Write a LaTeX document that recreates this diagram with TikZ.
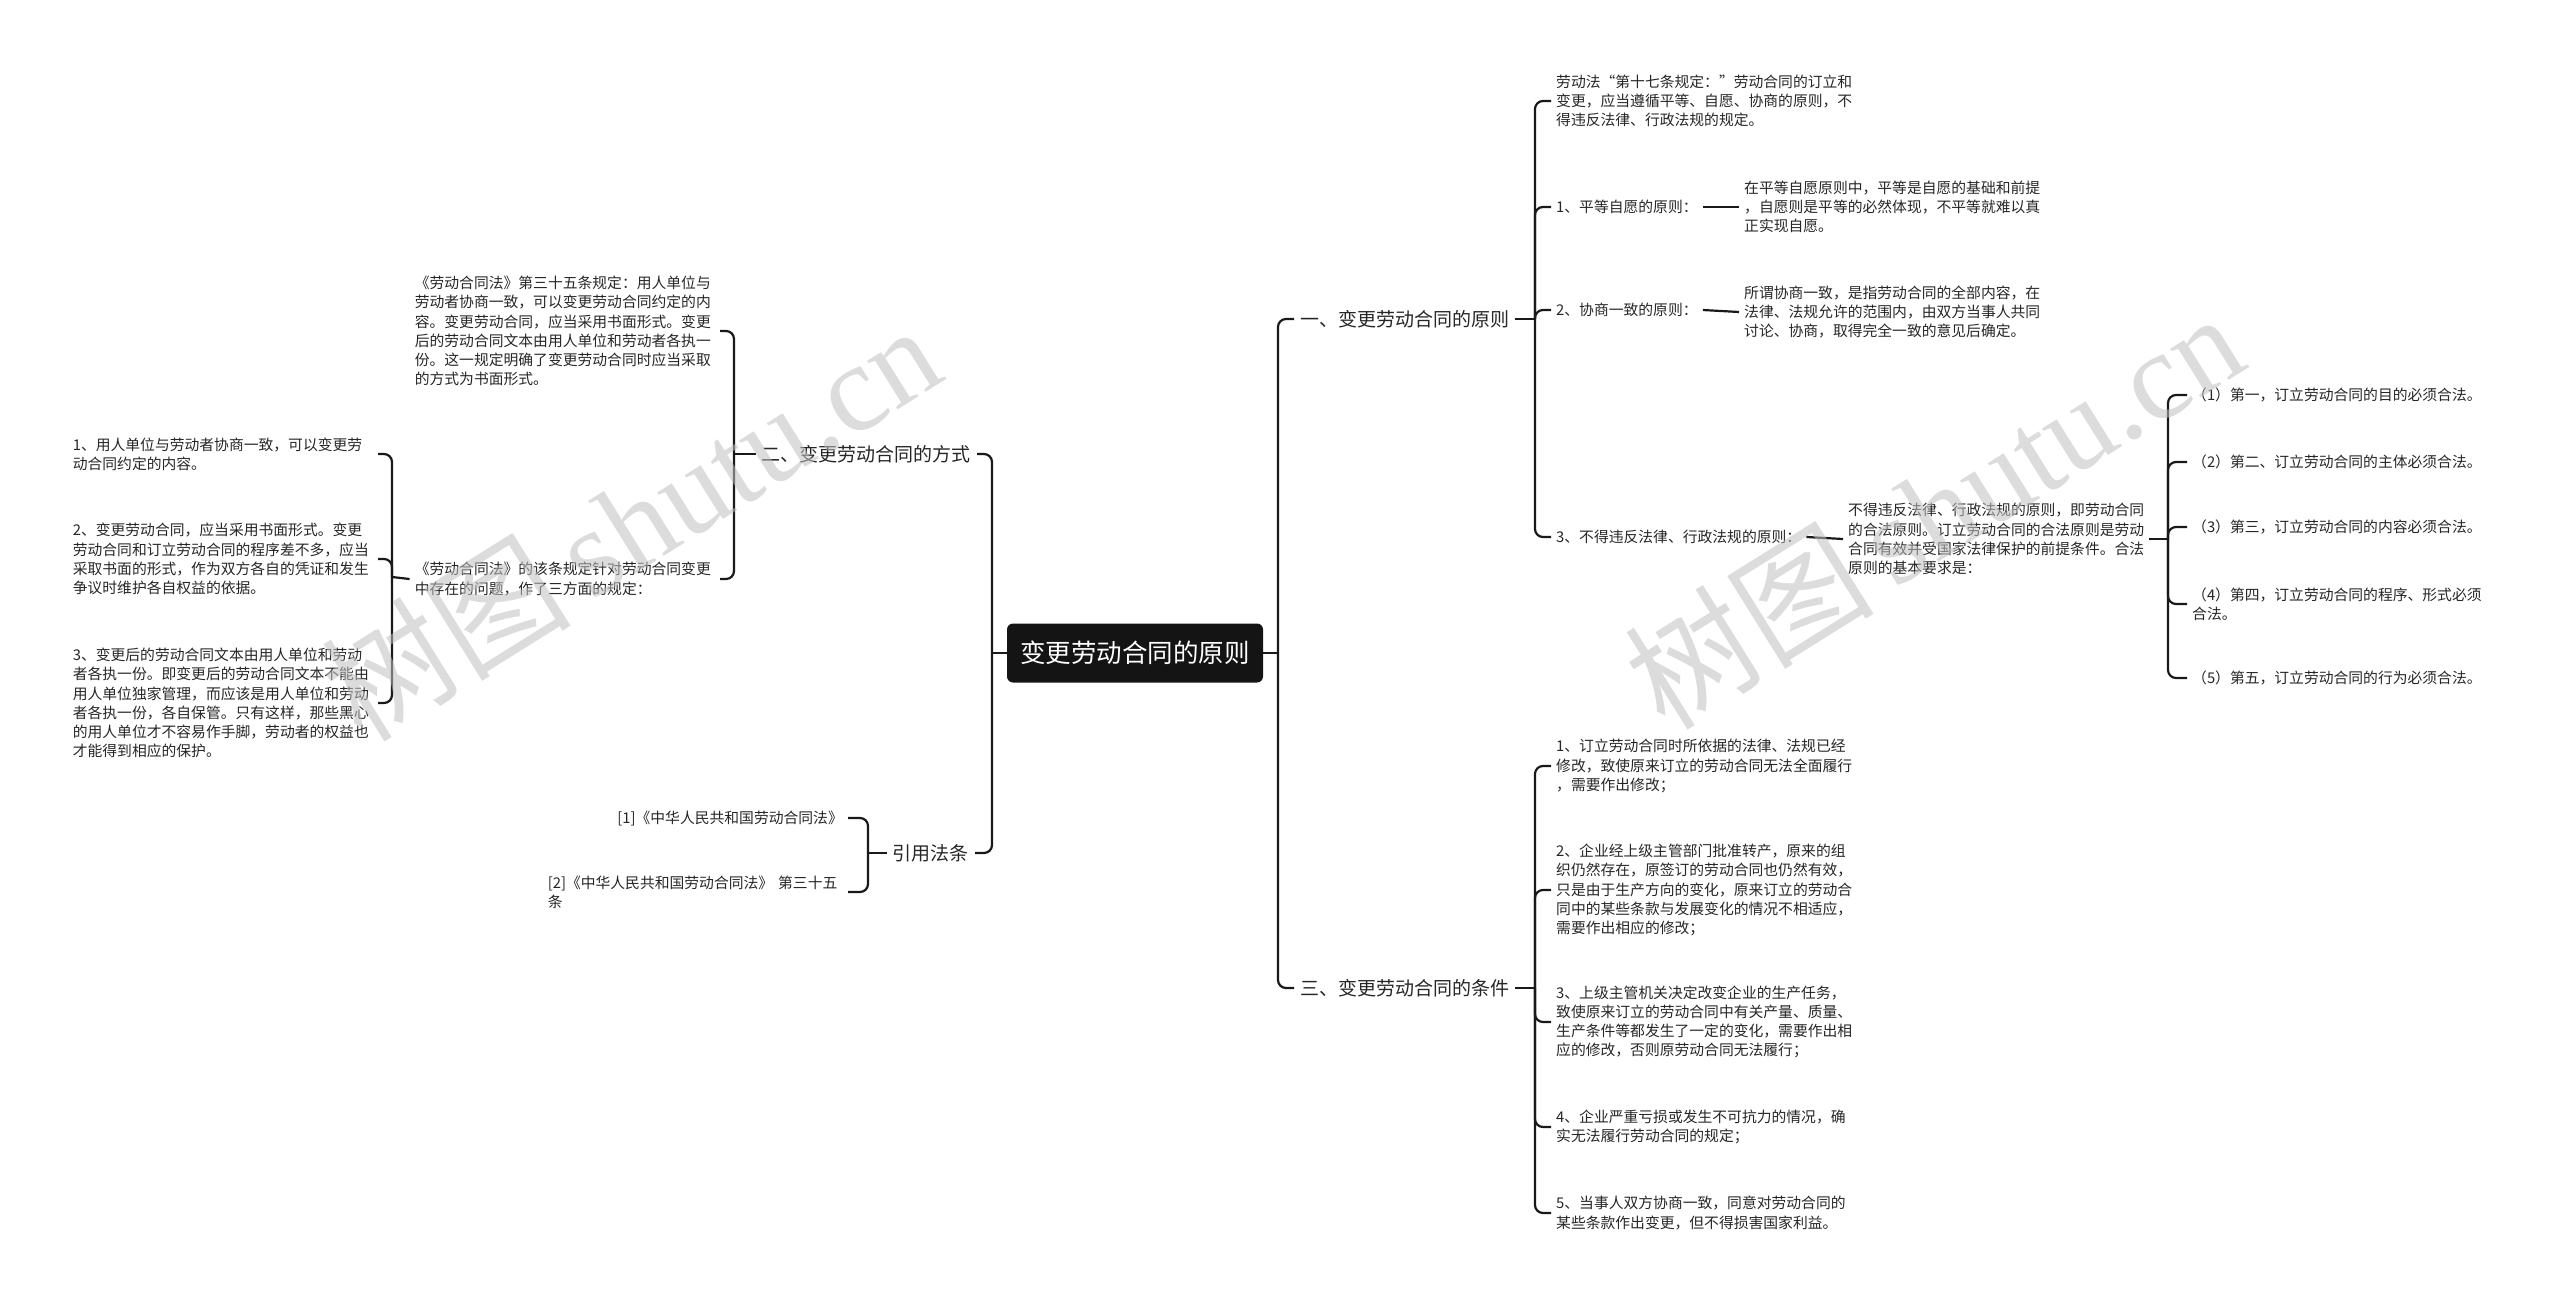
\documentclass[tikz,border=0pt]{standalone}
\usepackage{fontspec}
\setmainfont{Noto Sans CJK SC}
\newfontfamily\wmserif{Liberation Serif}
\usepackage{xcolor}

\begin{document}
\begin{tikzpicture}[x=1pt, y=-1pt]
        % 스타일 정의
        \tikzset{rootbox/.style={fill=black!92, rounded corners=6pt, text=white, font=\fontsize{25.5}{30}\selectfont, minimum width=256pt, minimum height=59pt, inner sep=0pt}}
        \tikzset{branch/.style={font=\fontsize{19}{24}\selectfont, text=black!85, inner xsep=6pt, inner ysep=2pt}}
        \tikzset{leaf/.style={anchor=west, align=left, font=\fontsize{14.8}{19.2}\selectfont, text=black!85, inner xsep=5pt, inner ysep=2pt}}
        \tikzset{leafl/.style={leaf, anchor=east, text width=300pt}}
        \tikzset{link/.style={line width=2.2pt, black!90, rounded corners=8pt}}
        \tikzset{wmark/.style={anchor=base west, rotate=32, text=gray!50, text opacity=0.55, font=\fontsize{125}{135}\selectfont, inner sep=0pt}}

        \useasboundingbox (0,0) rectangle (2560,1303);

        % 1. 중심 노드와 큰 가지
        \node[rootbox] (root) at (1135,653) {变更劳动合同的原则};
        \node[branch, anchor=west] (b1) at (1294,319) {一、变更劳动合同的原则};
        \node[branch, anchor=west] (b3) at (1294,988) {三、变更劳动合同的条件};
        \node[branch, anchor=east] (b2) at (977,454) {二、变更劳动合同的方式};
        \node[branch, anchor=east] (b4) at (975,853) {引用法条};

        \coordinate (tr) at (1278,653);
        \coordinate (tl) at (992,653);
        \draw[link] (root.east) -- (tr);
        \draw[link] (tr) |- (b1.west);
        \draw[link] (tr) |- (b3.west);
        \draw[link] (root.west) -- (tl);
        \draw[link] (tl) |- (b2.east);
        \draw[link] (tl) |- (b4.east);

        % 2. 오른쪽 위: 원칙
        \node[leaf] (a1) at (1551,101) {劳动法“第十七条规定：”劳动合同的订立和\\变更，应当遵循平等、自愿、协商的原则，不\\得违反法律、行政法规的规定。};
        \node[leaf] (a2) at (1551,207) {1、平等自愿的原则：};
        \node[leaf] (a3) at (1551,310) {2、协商一致的原则：};
        \node[leaf] (a4) at (1551,537) {3、不得违反法律、行政法规的原则：};
        \node[leaf] (a2c) at (1739,207) {在平等自愿原则中，平等是自愿的基础和前提\\，自愿则是平等的必然体现，不平等就难以真\\正实现自愿。};
        \node[leaf] (a3c) at (1739,312) {所谓协商一致，是指劳动合同的全部内容，在\\法律、法规允许的范围内，由双方当事人共同\\讨论、协商，取得完全一致的意见后确定。};
        \node[leaf] (a4c) at (1843,539) {不得违反法律、行政法规的原则，即劳动合同\\的合法原则。订立劳动合同的合法原则是劳动\\合同有效并受国家法律保护的前提条件。合法\\原则的基本要求是：};

        \coordinate (t1) at (1535,319);
        \draw[link] (b1.east) -- (t1);
        \foreach \c in {a1,a2,a3,a4}
            \draw[link] (t1) |- (\c.west);
        \draw[link] (a2.east) -- (a2c.west);
        \draw[link] (a3.east) -- (a3c.west);
        \draw[link] (a4.east) -- (a4c.west);

        \node[leaf] (p1) at (2187,395) {（1）第一，订立劳动合同的目的必须合法。};
        \node[leaf] (p2) at (2187,462) {（2）第二、订立劳动合同的主体必须合法。};
        \node[leaf] (p3) at (2187,527) {（3）第三，订立劳动合同的内容必须合法。};
        \node[leaf] (p4) at (2187,604) {（4）第四，订立劳动合同的程序、形式必须\\合法。};
        \node[leaf] (p5) at (2187,678) {（5）第五，订立劳动合同的行为必须合法。};

        \coordinate (t4) at (2168,539);
        \draw[link] (a4c.east) -- (t4);
        \foreach \c in {p1,p2,p3,p4,p5}
            \draw[link] (t4) |- (\c.west);

        % 3. 오른쪽 아래: 조건
        \node[leaf] (c1) at (1551,766) {1、订立劳动合同时所依据的法律、法规已经\\修改，致使原来订立的劳动合同无法全面履行\\，需要作出修改；};
        \node[leaf] (c2) at (1551,890) {2、企业经上级主管部门批准转产，原来的组\\织仍然存在，原签订的劳动合同也仍然有效，\\只是由于生产方向的变化，原来订立的劳动合\\同中的某些条款与发展变化的情况不相适应，\\需要作出相应的修改；};
        \node[leaf] (c3) at (1551,1022) {3、上级主管机关决定改变企业的生产任务，\\致使原来订立的劳动合同中有关产量、质量、\\生产条件等都发生了一定的变化，需要作出相\\应的修改，否则原劳动合同无法履行；};
        \node[leaf] (c4) at (1551,1127) {4、企业严重亏损或发生不可抗力的情况，确\\实无法履行劳动合同的规定；};
        \node[leaf] (c5) at (1551,1213) {5、当事人双方协商一致，同意对劳动合同的\\某些条款作出变更，但不得损害国家利益。};

        \coordinate (t3) at (1535,988);
        \draw[link] (b3.east) -- (t3);
        \foreach \c in {c1,c2,c3,c4,c5}
            \draw[link] (t3) |- (\c.west);

        % 4. 왼쪽: 방식
        \node[leafl] (l1) at (720,331) {《劳动合同法》第三十五条规定：用人单位与\\劳动者协商一致，可以变更劳动合同约定的内\\容。变更劳动合同，应当采用书面形式。变更\\后的劳动合同文本由用人单位和劳动者各执一\\份。这一规定明确了变更劳动合同时应当采取\\的方式为书面形式。};
        \node[leafl] (l2) at (720,579) {《劳动合同法》的该条规定针对劳动合同变更\\中存在的问题，作了三方面的规定：};

        \coordinate (t2) at (734,454);
        \draw[link] (b2.west) -- (t2);
        \draw[link] (t2) |- (l1.east);
        \draw[link] (t2) |- (l2.east);

        \node[leafl] (m1) at (378,454) {1、用人单位与劳动者协商一致，可以变更劳\\动合同约定的内容。};
        \node[leafl] (m2) at (378,559) {2、变更劳动合同，应当采用书面形式。变更\\劳动合同和订立劳动合同的程序差不多，应当\\采取书面的形式，作为双方各自的凭证和发生\\争议时维护各自权益的依据。};
        \node[leafl] (m3) at (378,703) {3、变更后的劳动合同文本由用人单位和劳动\\者各执一份。即变更后的劳动合同文本不能由\\用人单位独家管理，而应该是用人单位和劳动\\者各执一份，各自保管。只有这样，那些黑心\\的用人单位才不容易作手脚，劳动者的权益也\\才能得到相应的保护。};

        \coordinate (t5) at (392,577);
        \draw[link] (l2.west) -- (t5);
        \foreach \c in {m1,m2,m3}
            \draw[link] (t5) |- (\c.east);

        % 5. 왼쪽 아래: 법조문
        \node[leaf, anchor=east] (r1) at (848,818) {[1]《中华人民共和国劳动合同法》};
        \node[leafl, text width=295pt] (r2) at (848,892) {[2]《中华人民共和国劳动合同法》 第三十五\\条};

        \coordinate (t6) at (868,853);
        \draw[link] (b4.west) -- (t6);
        \draw[link] (t6) |- (r1.east);
        \draw[link] (t6) |- (r2.east);

        % 워터마크
        \node[wmark] (wm1) at (362,745) {树图{\wmserif\,shutu.cn}};
        \node[wmark] (wm2) at (1665,733) {树图{\wmserif\,shutu.cn}};
    \end{tikzpicture}
\end{document}
